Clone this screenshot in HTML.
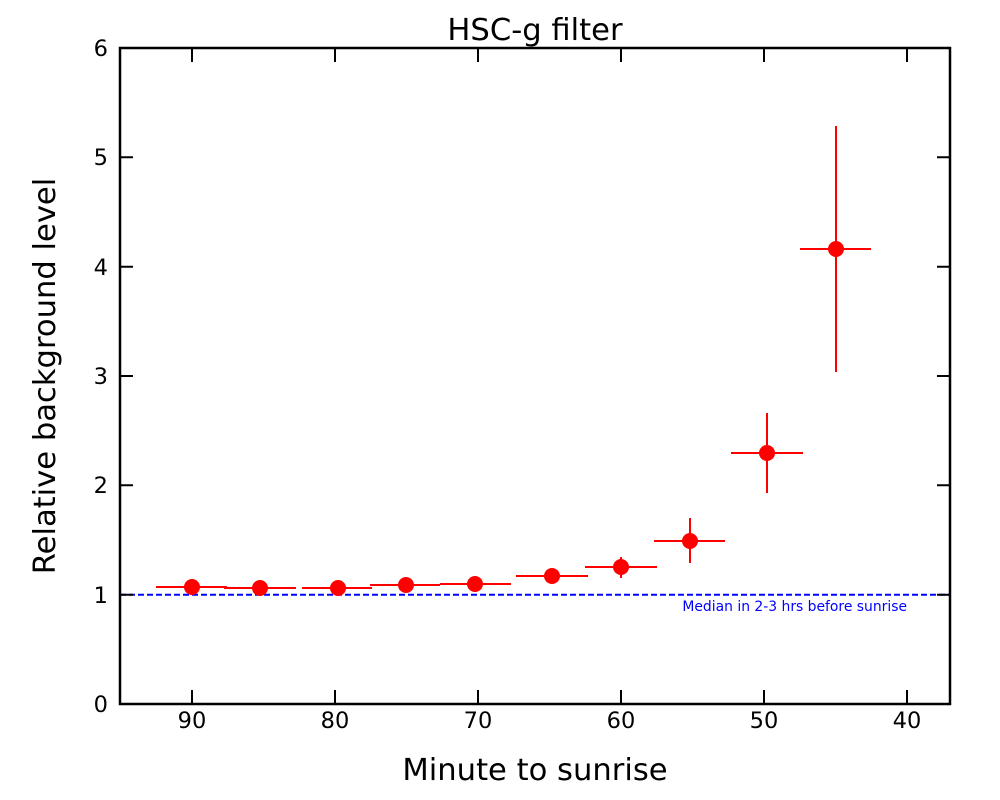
<!DOCTYPE html>
<html><head><style>body{margin:0;background:#fff}svg{display:block}</style></head><body>
<svg width="1000" height="800" xmlns="http://www.w3.org/2000/svg" font-family="DejaVu Sans, sans-serif">
<rect width="1000" height="800" fill="#fff"/>
<line x1="120" y1="594.7" x2="950" y2="594.7" stroke="#0000ff" stroke-width="2" stroke-dasharray="6,3"/>
<text x="907" y="611" font-size="13.9" fill="#0000ff" text-anchor="end">Median in 2-3 hrs before sunrise</text>
<g stroke="#ff0000" stroke-width="2">
<line x1="156" y1="587" x2="227" y2="587"/><line x1="192" y1="582" x2="192" y2="592"/>
<line x1="224" y1="588" x2="296" y2="588"/><line x1="260" y1="584" x2="260" y2="592"/>
<line x1="302" y1="588" x2="372" y2="588"/><line x1="338" y1="584" x2="338" y2="592"/>
<line x1="370" y1="585" x2="440" y2="585"/><line x1="406" y1="580" x2="406" y2="590"/>
<line x1="440" y1="584" x2="511" y2="584"/><line x1="475" y1="579" x2="475" y2="589"/>
<line x1="516" y1="576" x2="588" y2="576"/><line x1="552" y1="570" x2="552" y2="582"/>
<line x1="585" y1="567" x2="657" y2="567"/><line x1="621" y1="557" x2="621" y2="578"/>
<line x1="654" y1="541" x2="725" y2="541"/><line x1="690" y1="518" x2="690" y2="563"/>
<line x1="731" y1="453" x2="803" y2="453"/><line x1="767" y1="413" x2="767" y2="493"/>
<line x1="800" y1="249" x2="871" y2="249"/><line x1="836" y1="126" x2="836" y2="372"/>
</g>
<g fill="#ff0000">
<circle cx="192" cy="587" r="8"/><circle cx="260" cy="588" r="8"/><circle cx="338" cy="588" r="8"/>
<circle cx="406" cy="585" r="8"/><circle cx="475" cy="584" r="8"/><circle cx="552" cy="576" r="8"/>
<circle cx="621" cy="567" r="8"/><circle cx="690" cy="541" r="8"/><circle cx="767" cy="453" r="8"/>
<circle cx="836" cy="249" r="8"/>
</g>
<rect x="120" y="48" width="830" height="656" fill="none" stroke="#000" stroke-width="2.5"/>
<g stroke="#000" stroke-width="2">
<path d="M192,704v-14M335,704v-14M478,704v-14M621,704v-14M764,704v-14M907,704v-14M192,48v14M335,48v14M478,48v14M621,48v14M764,48v14M907,48v14"/>
<path d="M120,594.7h13M120,485.3h13M120,376h13M120,266.7h13M120,157.3h13M950,594.7h-13M950,485.3h-13M950,376h-13M950,266.7h-13M950,157.3h-13"/>
</g>
<g font-size="22.5" fill="#000" text-anchor="middle">
<text x="192" y="728">90</text><text x="335" y="728">80</text><text x="478" y="728">70</text>
<text x="621" y="728">60</text><text x="764" y="728">50</text><text x="907" y="728">40</text>
</g>
<g font-size="22.5" fill="#000" text-anchor="end">
<text x="108" y="712">0</text><text x="108" y="603">1</text><text x="108" y="493">2</text>
<text x="108" y="384">3</text><text x="108" y="275">4</text><text x="108" y="165">5</text><text x="108" y="56">6</text>
</g>
<text x="535" y="40" font-size="30.6" text-anchor="middle">HSC-g filter</text>
<text x="535" y="780" font-size="30.6" text-anchor="middle">Minute to sunrise</text>
<text transform="translate(55,376) rotate(-90)" font-size="30.6" text-anchor="middle">Relative background level</text>
</svg>
</body></html>
